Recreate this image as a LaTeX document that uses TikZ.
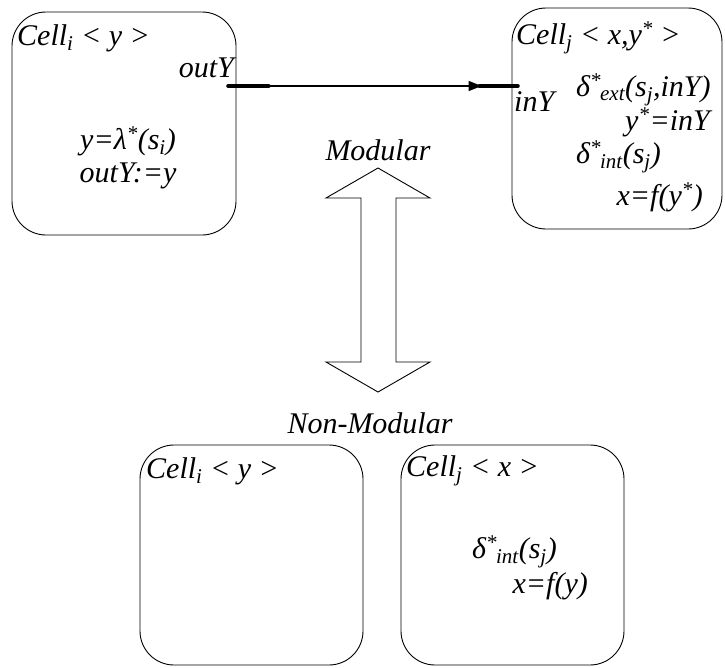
\documentclass[tikz,border=0pt]{standalone}
\usepackage{fontspec}
\setmainfont{Liberation Serif}
\usetikzlibrary{positioning, arrows.meta, calc}

\begin{document}
\begin{tikzpicture}[
    x=1pt,
    y=-1pt,
    cellbox/.style={
        draw,
        rectangle,
        rounded corners=34pt,
        line width=0.9pt,
        inner sep=0pt
    },
    lbl/.style={
        font=\itshape\fontsize{30}{34}\selectfont,
        inner sep=0pt
    },
    flow/.style={-{Triangle[length=13pt, width=10pt]}, line width=1.6pt},
    portbar/.style={line width=4.5pt, line cap=round},
    bigarrow/.style={draw, line width=0.9pt, fill=white}
]

\useasboundingbox (0,0) rectangle (725,667);

% Modular cells
\node[cellbox, minimum width=224pt, minimum height=223pt] (celli) at (124,123.5) {};
\node[cellbox, minimum width=210pt, minimum height=221pt] (cellj) at (617,118.5) {};

\node[lbl, anchor=west] (celliname) at (17,38) {Cell\textsubscript{i} < y >};
\node[lbl, anchor=east] (outlbl) at (234,68) {outY};
\node[lbl] (lambdaeq) at (128,141) {y=λ\textsuperscript{*}(s\textsubscript{i})};
\node[lbl] (outassign) at (128,176) {outY:=y};

\node[lbl, anchor=west] (celljname) at (516,38) {Cell\textsubscript{j} < x,y\textsuperscript{*} >};
\node[lbl, anchor=west] (inlbl) at (514,102) {inY};
\node[lbl, anchor=west] (extlbl) at (576,90) {δ\textsuperscript{*}\kern-1pt\textsubscript{ext}(s\textsubscript{j},inY)};
\node[lbl, anchor=east] (ystar) at (710,122) {y\textsuperscript{*}=inY};
\node[lbl, anchor=west] (intlbl) at (576,157) {δ\textsuperscript{*}\kern-1pt\textsubscript{int}(s\textsubscript{j})};
\node[lbl, anchor=east] (fystar) at (703,197) {x=f(y\textsuperscript{*})};

% Port connection
\coordinate (outport) at (celli.east |- 0,86);
\coordinate (inport) at (cellj.west |- 0,86);
\draw[portbar] ([xshift=-8pt]outport) -- ([xshift=32pt]outport);
\draw[portbar] ([xshift=-32pt]inport) -- ([xshift=6pt]inport);
\draw[flow] (outport) -- ([xshift=-30pt]inport);

% Modular <-> Non-Modular
\draw[bigarrow] (378,168) -- (430,198) -- (396,198) -- (396,362) -- (430,362)
    -- (378,392) -- (326,362) -- (361,362) -- (361,198) -- (326,198) -- cycle;
\node[lbl] (modular) at (378,150) {Modular};
\node[lbl] (nonmodular) at (370,423) {Non-Modular};

% Non-modular cells
\node[cellbox, minimum width=223pt, minimum height=220pt] (ncelli) at (251.5,555) {};
\node[cellbox, minimum width=223pt, minimum height=220pt] (ncellj) at (512.5,555) {};

\node[lbl, anchor=west] (ncelliname) at (146,471) {Cell\textsubscript{i} < y >};
\node[lbl, anchor=west] (ncelljname) at (406,471) {Cell\textsubscript{j} < x >};
\node[lbl, anchor=west] (nintlbl) at (472,552) {δ\textsuperscript{*}\kern-1pt\textsubscript{int}(s\textsubscript{j})};
\node[lbl, anchor=east] (nfy) at (588,586) {x=f(y)};

\end{tikzpicture}
\end{document}
